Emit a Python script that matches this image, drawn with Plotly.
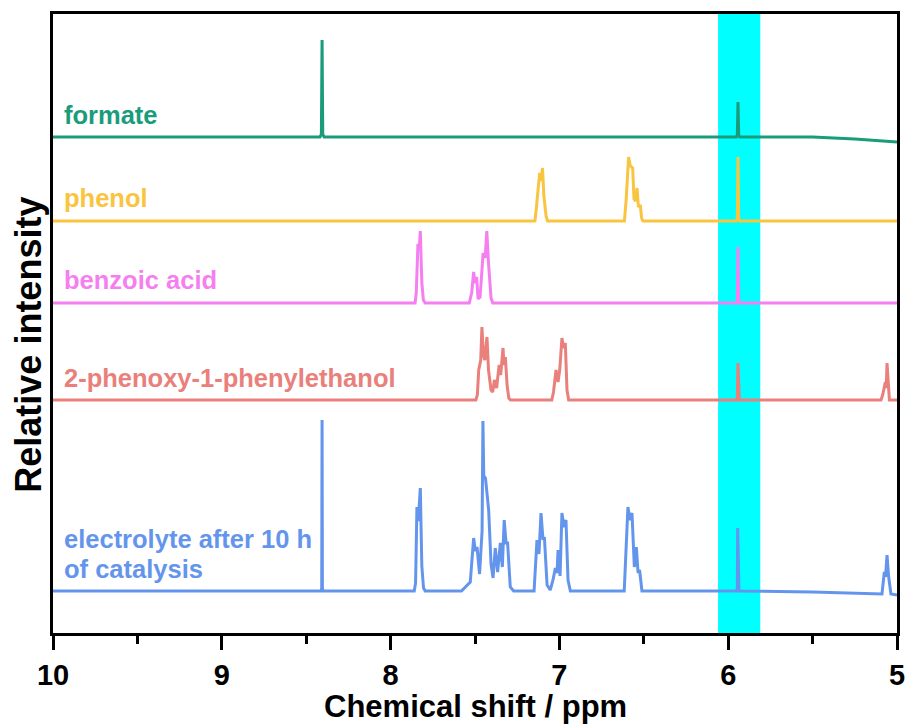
import plotly.graph_objects as go

# ---------------- data ----------------
names = ["formate", "phenol", "benzoic acid", "2-phenoxy-1-phenylethanol", "electrolyte"]

formate_ppm = [10.0, 8.418, 8.410, 8.406, 8.402, 8.394, 5.952, 5.946, 5.942, 5.938, 5.932, 5.50, 5.25, 5.0]
formate_int = [0, 0, 3, 97, 3, 0, 0, 2, 35, 2, 0, 0, -2, -5]

phenol_ppm = [10.0, 7.145, 7.137, 7.125, 7.117, 7.110, 7.100, 7.092, 7.079, 7.070,
              6.615, 6.605, 6.597, 6.590, 6.580, 6.566, 6.558, 6.548, 6.540, 6.532, 6.521, 6.513, 6.505,
              5.952, 5.946, 5.942, 5.938, 5.932, 5.0]
phenol_int = [0, 0, 12, 30, 48, 40, 53, 25, 5, 0,
              0, 20, 50, 64, 55, 53, 22, 20, 33, 14, 16, 3, 0,
              0, 3, 64, 3, 0, 0]

benzoic_ppm = [10.0, 7.855, 7.848, 7.838, 7.830, 7.824, 7.815, 7.806, 7.795,
               7.534, 7.520, 7.508, 7.500, 7.490, 7.482, 7.470, 7.460, 7.452, 7.440, 7.430, 7.420, 7.413, 7.405, 7.395,
               5.950, 5.946, 5.942, 5.938, 5.934, 5.0]
benzoic_int = [0, 0, 10, 59, 55, 72, 20, 3, 0,
               0, 10, 31, 20, 26, 4, 6, 30, 50, 45, 72, 40, 26, 5, 0,
               0, 3, 56, 3, 0, 0]

phenoxy_ppm = [10.0, 7.495, 7.486, 7.478, 7.466, 7.459, 7.450, 7.442, 7.429, 7.420, 7.405, 7.395, 7.385,
               7.372, 7.357, 7.348, 7.334, 7.328, 7.320, 7.310, 7.300, 7.290,
               7.045, 7.035, 7.020, 7.008, 6.998, 6.985, 6.975, 6.965, 6.955, 6.945,
               5.950, 5.946, 5.942, 5.938, 5.934,
               5.095, 5.085, 5.069, 5.064, 5.059, 5.052, 5.045, 5.0]
phenoxy_int = [0, 0, 5, 30, 40, 73, 45, 40, 63, 30, 10, 8, 20,
               12, 35, 25, 52, 35, 43, 15, 2, 0,
               0, 8, 30, 18, 30, 62, 52, 57, 10, 0,
               0, 3, 37, 3, 0,
               0, 5, 18, 12, 37, 10, 0, 0]

electro_ppm = [10.0, 8.412, 8.408, 8.406, 8.404, 8.400,
               7.860, 7.852, 7.844, 7.836, 7.824, 7.815, 7.805, 7.795,
               7.580, 7.528, 7.508, 7.498, 7.488, 7.473, 7.458, 7.453, 7.448, 7.438, 7.430, 7.419, 7.405, 7.393,
               7.380, 7.366, 7.350, 7.338, 7.327, 7.316, 7.307, 7.291, 7.271,
               7.150, 7.133, 7.121, 7.109, 7.097, 7.089, 7.073, 7.054,
               7.038, 7.024, 7.014, 7.008, 6.996, 6.985, 6.973, 6.961, 6.949, 6.935,
               6.616, 6.594, 6.582, 6.570, 6.556, 6.544, 6.534, 6.525, 6.511,
               5.950, 5.946, 5.944, 5.940, 5.936,
               5.50, 5.089, 5.075, 5.068, 5.059, 5.050, 5.036, 5.0]
electro_int = [0, 0, 3, 171, 3, 0,
               0, 8, 84, 70, 103, 25, 3, 0,
               0, 9, 53, 40, 44, 17, 60, 170, 115, 113, 100, 81, 27, 13,
               43, 19, 48, 24, 71, 48, 48, 4, 0,
               0, 51, 37, 78, 51, 54, 6, 1,
               11, 23, 18, 41, 15, 78, 64, 71, 11, 0,
               0, 84, 71, 78, 24, 44, 18, 21, 0,
               0, 3, 63, 3, 0,
               -1, -3, 19, 14, 36, 15, -3, -4]

offsets = [496, 412, 330, 233, 42]
x_ticks = [10, 9, 8, 7, 6, 5]
band_ppm = [6.06, 5.81]

colors = ["#1a9c7b", "#f9c440", "#f57ff0", "#e9807b", "#6495ed"]
label_texts = ["formate", "phenol", "benzoic acid", "2-phenoxy-1-phenylethanol",
               "electrolyte after 10 h", "of catalysis"]
label_y = [0.837, 0.703, 0.570, 0.412, 0.152, 0.103]
label_colors = colors[:4] + [colors[4], colors[4]]

spectra = [(formate_ppm, formate_int), (phenol_ppm, phenol_int), (benzoic_ppm, benzoic_int),
           (phenoxy_ppm, phenoxy_int), (electro_ppm, electro_int)]

# ---------------- figure ----------------
fig = go.Figure()
for (px, py), off, col, nm in zip(spectra, offsets, colors, names):
    fig.add_trace(go.Scatter(x=px, y=[v + off for v in py], mode="lines", name=nm,
                             line=dict(color=col, width=3), showlegend=False))

fig.add_shape(type="rect", xref="x", yref="paper", x0=band_ppm[0], x1=band_ppm[1], y0=0, y1=1,
              fillcolor="#00ffff", line=dict(width=0), layer="below")

FONT = "Arial, Liberation Sans, sans-serif"
for t, y, c in zip(label_texts, label_y, label_colors):
    fig.add_annotation(text=t, xref="paper", yref="paper", x=0.011, y=y, xanchor="left", yanchor="middle",
                       showarrow=False, font=dict(family=FONT, size=25.5, color=c, weight="bold"))

fig.add_annotation(text="Relative intensity", xref="paper", yref="paper", x=-0.029, y=0.465,
                   xanchor="center", yanchor="middle", textangle=-90, showarrow=False,
                   font=dict(family=FONT, size=36, color="black", weight="bold"))

fig.add_annotation(text="Chemical shift / ppm", xref="paper", yref="paper", x=0.5, y=-0.1502,
                   xanchor="center", yanchor="bottom", showarrow=False,
                   font=dict(family=FONT, size=31, color="black", weight="bold"))

fig.update_layout(
    width=909, height=726,
    margin=dict(l=53, r=12, t=14, b=93),
    plot_bgcolor="white", paper_bgcolor="white",
    xaxis=dict(range=[10, 5], tickvals=x_ticks, ticks="outside", ticklen=14, tickwidth=3,
               tickcolor="black", showline=True, linewidth=3, linecolor="black", mirror=True,
               showgrid=False, zeroline=False, automargin=False,
               minor=dict(dtick=0.5, ticks="outside", ticklen=8, tickwidth=3, tickcolor="black"),
               tickfont=dict(family=FONT, size=29, color="black", weight="bold")),
    yaxis=dict(range=[0, 619], showticklabels=False, ticks="", showline=True, linewidth=3,
               linecolor="black", mirror=True, showgrid=False, zeroline=False, automargin=False),
)

fig.write_html("out.html")
